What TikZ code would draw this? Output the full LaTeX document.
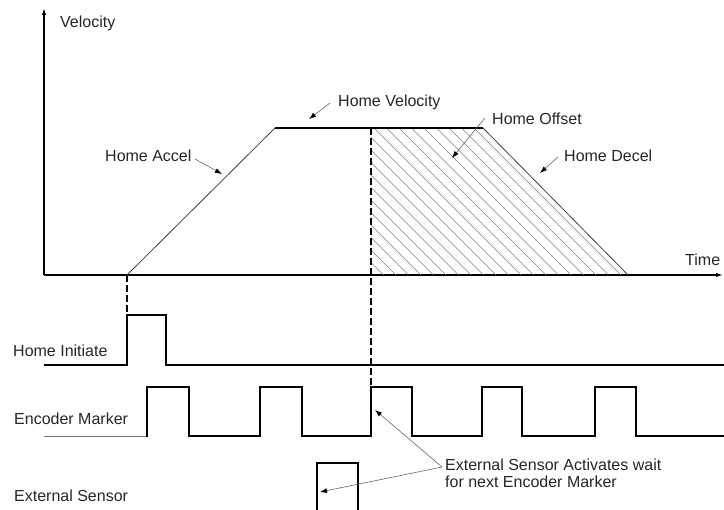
\documentclass[tikz,border=0pt]{standalone}
\usepackage{fontspec}
\setmainfont{Liberation Sans}
\usetikzlibrary{arrows.meta}
\begin{document}
\begin{tikzpicture}[x=1pt,y=-1pt,
  lbl/.style={font=\fontsize{16}{17}\selectfont, inner sep=0pt, anchor=base west, text=black!85},
  sig/.style={line width=1.1pt, line join=miter, black},
  slope/.style={line width=0.8pt, black!75},
  axis/.style={line width=1.3pt, black, -{Latex[length=7pt,width=4.5pt]}},
  ann/.style={draw=black!60, line width=0.6pt, -{Latex[length=7pt,width=5pt,color=black]}},
  dsh/.style={line width=2pt, black, dash pattern=on 7pt off 3pt},
  hatch/.style={line width=0.6pt, black!50}]
\useasboundingbox (0,0) rectangle (724,510);

% axes
\coordinate (O) at (44,275);
\coordinate (ytop) at (44,8);
\coordinate (xend) at (723,275);
\draw[axis] (O) -- (ytop);
\draw[axis] (O) -- (xend);

% velocity profile
\coordinate (p0) at (127,275);
\coordinate (p1) at (275,128);
\coordinate (p2) at (371,128);
\coordinate (p3) at (483,128);
\coordinate (p4) at (628,275);
\coordinate (p5) at (371,275);

% hatching
\begin{scope}
  \clip (p2) -- (p3) -- (p4) -- (p5) -- cycle;
  \foreach \x in {224,236.5,...,640} {
    \draw[hatch] (\x,128) -- ++(147,147);
  }
\end{scope}

\draw[slope] (p0) -- (p1);
\draw[sig] (p1) -- (p3);
\draw[slope] (p3) -- (p4);

% dashed
\coordinate (d1b) at (127,316);
\coordinate (d2b) at (371,387);
\draw[dsh] (p0) -- (d1b);
\draw[dsh] (p2) -- (d2b);

% Home initiate signal
\draw[sig] (44,365) -- (127,365) -- (127,315) -- (166,315) -- (166,365) -- (724,365);

% Encoder marker
\draw[line width=0.9pt, black!55] (44,436) -- (147,436);
\draw[sig] (146,436) -- (147,436) -- (147,387) -- (189,387) -- (189,436) -- (260,436) -- (260,387) -- (302,387) -- (302,436)
  -- (371,436) -- (371,387) -- (412,387) -- (412,436) -- (482,436) -- (482,387) -- (522,387) -- (522,436)
  -- (595,436) -- (595,387) -- (636,387) -- (636,436) -- (724,436);

% External sensor
\draw[sig] (317,511) -- (317,463) -- (358,463) -- (358,511);

% labels
\node[lbl] (vel) at (60,28) {Velocity};
\node[lbl] (time) at (685,266) {Time};
\node[lbl] (hvel) at (338,107) {Home Velocity};
\node[lbl] (hacc) at (105,162) {Home Accel};
\node[lbl] (hoff) at (492,125) {Home Offset};
\node[lbl] (hdec) at (564,162) {Home Decel};
\node[lbl] (hini) at (13,357) {Home Initiate};
\node[lbl] (enc) at (14,425) {Encoder Marker};
\node[lbl] (ext) at (14,502) {External Sensor};
\node[lbl, anchor=north west, align=left] (note) at (445,458.5) {External Sensor Activates wait\\for next Encoder Marker};

% annotation arrows
\coordinate (a1s) at (330,103); \coordinate (a1e) at (309,119);
\coordinate (a2s) at (195,159); \coordinate (a2e) at (222,174);
\coordinate (a3s) at (485,118); \coordinate (a3e) at (452,158);
\coordinate (a4s) at (558,157); \coordinate (a4e) at (540,173);
\coordinate (a5s) at (442,467); \coordinate (a5e) at (375,410);
\coordinate (a6e) at (320,492);
\draw[ann] (a1s) -- (a1e);
\draw[ann] (a2s) -- (a2e);
\draw[ann] (a3s) -- (a3e);
\draw[ann] (a4s) -- (a4e);
\draw[ann] (a5s) -- (a5e);
\draw[ann] (a5s) -- (a6e);
\end{tikzpicture}
\end{document}
